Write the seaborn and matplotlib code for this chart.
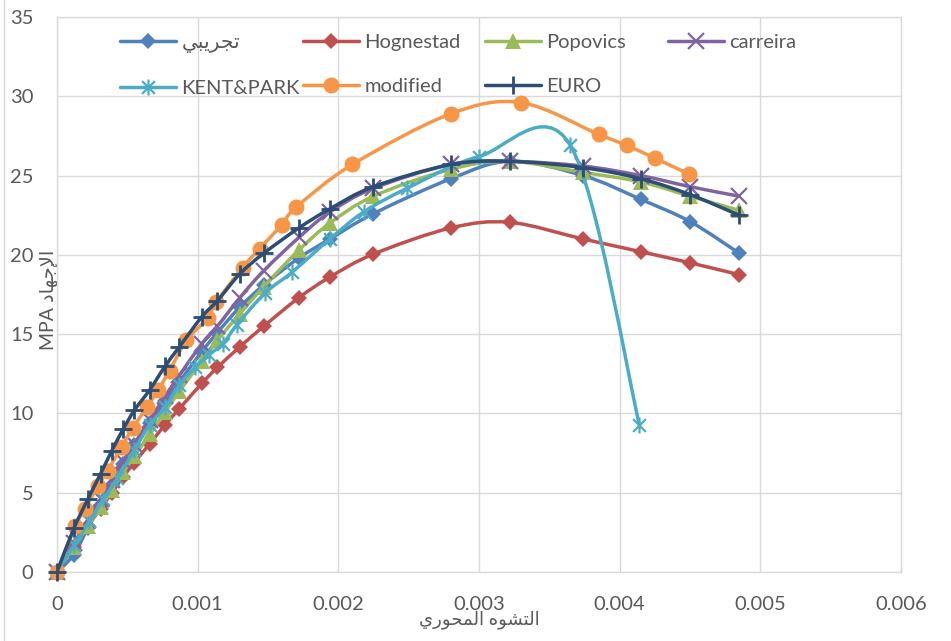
import numpy as np
import pandas as pd
import matplotlib
matplotlib.use("Agg")
import matplotlib.pyplot as plt
from matplotlib.path import Path
from matplotlib.patches import PathPatch
from matplotlib.lines import Line2D
import seaborn as sns

# ---------------- data ----------------
strain = [0, 0.00012, 0.00022, 0.00031, 0.00039, 0.00047, 0.00055, 0.00066, 0.00077,
          0.00087, 0.00103, 0.00114, 0.0013, 0.00147, 0.00172, 0.00194, 0.00225,
          0.0028, 0.00322, 0.00374, 0.00415, 0.0045, 0.00485]
exp_stress = [0, 1.1, 2.8, 4.2, 5.5, 6.8, 8.0, 9.4, 10.8, 12.0, 13.9, 15.1, 16.7, 18.1,
              19.8, 21.0, 22.6, 24.8, 25.9, 25.0, 23.5, 22.1, 20.1]
hognestad = [0, 1.6, 2.9, 4.0, 5.0, 6.0, 6.9, 8.1, 9.3, 10.3, 11.9, 12.9, 14.2, 15.5,
             17.3, 18.6, 20.05, 21.7, 22.05, 21.0, 20.2, 19.5, 18.75]
popovics = [0, 1.6, 2.9, 4.1, 5.2, 6.3, 7.3, 8.7, 10.1, 11.4, 13.3, 14.6, 16.3, 18.0,
            20.3, 22.0, 23.7, 25.4, 25.9, 25.2, 24.6, 23.7, 22.8]
carreira = [0, 1.8, 3.3, 4.6, 5.8, 7.0, 8.1, 9.6, 11.1, 12.4, 14.4, 15.5, 17.3, 19.0,
            21.1, 22.7, 24.2, 25.7, 25.9, 25.6, 25.0, 24.3, 23.7]
euro = [0, 2.75, 4.6, 6.2, 7.65, 9.0, 10.2, 11.5, 13.0, 14.2, 16.1, 17.1, 18.8, 20.1,
        21.7, 22.9, 24.3, 25.7, 25.9, 25.5, 24.8, 23.8, 22.5]

kp_strain = [0, 0.00012, 0.00023, 0.00033, 0.00043, 0.00055, 0.00066, 0.00077, 0.00087,
             0.00098, 0.00108, 0.00118, 0.00128, 0.00148, 0.00167, 0.00194, 0.00218,
             0.00249, 0.0030, 0.00365, 0.00414]
kent_park = [0, 1.7, 3.2, 4.6, 5.9, 7.7, 9.3, 10.4, 11.8, 12.9, 13.7, 14.4, 15.6, 17.6,
             18.9, 21.0, 22.7, 24.2, 26.2, 26.9, 9.3]

mod_strain = [0, 0.00013, 0.0002, 0.00029, 0.00036, 0.00046, 0.00054, 0.00064, 0.00072,
              0.0008, 0.00092, 0.00107, 0.00113, 0.00132, 0.00144, 0.0016, 0.0017,
              0.0021, 0.0028, 0.0033, 0.00385, 0.00405, 0.00425, 0.00449]
modified = [0, 2.9, 4.0, 5.4, 6.4, 7.9, 9.1, 10.4, 11.5, 12.7, 14.6, 16.0, 17.0, 19.2,
            20.4, 21.9, 23.0, 25.7, 28.9, 29.6, 27.6, 26.9, 26.1, 25.1]

# Arabic texts (presentation forms, visual order, since matplotlib has no shaping)
label_exp = "\uFEF2\uFE92\uFEF3\uFEAE\uFEA0\uFE97"          # تجريبي
x_title = "\uFEF1\uFEAD\uFEEE\uFEA4\uFEE4\uFEDF\uFE8D \uFEE9\uFEEE\uFEB8\uFE98\uFEDF\uFE8D"  # التشوه المحوري
y_title = "MPA \uFEA9\uFE8E\uFEEC\uFE9F\uFEF9\uFE8D"          # الإجهاد MPA

x_ticks = [0, 0.001, 0.002, 0.003, 0.004, 0.005, 0.006]
x_ticklabels = ["0", "0.001", "0.002", "0.003", "0.004", "0.005", "0.006"]
y_ticks = [0, 5, 10, 15, 20, 25, 30, 35]

# ---------------- style ----------------
sns.set_theme(style="white")
plt.rcParams['font.family'] = ['Lato', 'DejaVu Sans']

star = Path([(-1, -1), (1, 1), (-1, 1), (1, -1), (0, -1.25), (0, 1.25)],
            [Path.MOVETO, Path.LINETO, Path.MOVETO, Path.LINETO, Path.MOVETO, Path.LINETO])

series = [
    (label_exp, strain, exp_stress, "#4F81BD", dict(marker="D", markersize=8.5, mew=0)),
    ("Hognestad", strain, hognestad, "#C0504D", dict(marker="D", markersize=8.5, mew=0)),
    ("Popovics", strain, popovics, "#9BBB59", dict(marker="^", markersize=11.5, mew=0)),
    ("carreira", strain, carreira, "#8064A2", dict(marker="x", markersize=11, mew=1.6)),
    ("KENT&PARK", kp_strain, kent_park, "#4BACC6", dict(marker=star, markersize=11.5, mew=1.6,
                                                         markerfacecolor="none")),
    ("modified", mod_strain, modified, "#F79646", dict(marker="o", markersize=11.5, mew=0)),
    ("EURO", strain, euro, "#2C4D75", dict(marker="+", markersize=12.5, mew=2)),
]


def smooth_path(x, y):
    pts = np.column_stack([x, y]).astype(float)
    n = len(pts)
    verts = [pts[0]]
    codes = [Path.MOVETO]
    for i in range(n - 1):
        p0 = pts[i - 1] if i > 0 else pts[i]
        p1 = pts[i]
        p2 = pts[i + 1]
        p3 = pts[i + 2] if i + 2 < n else pts[i + 1]
        verts += [p1 + (p2 - p0) / 6.0, p2 - (p3 - p1) / 6.0, p2]
        codes += [Path.CURVE4] * 3
    return Path(verts, codes)


fig = plt.figure(figsize=(9.51, 6.41), dpi=100)
ax = fig.add_axes([57 / 951, 1 - 572 / 641, (901 - 57) / 951, (572 - 17) / 641])

LW = 2.5
handles = {}
for k, (name, xs, ys, col, mk) in enumerate(series):
    df = pd.DataFrame({"strain": xs, "stress": ys})
    patch = PathPatch(smooth_path(xs, ys), fill=False, edgecolor=col, lw=LW,
                      transform=ax.transData, zorder=3 + 2 * k,
                      capstyle="round", joinstyle="round")
    ax.add_patch(patch)
    sns.lineplot(data=df, x="strain", y="stress", ax=ax, sort=False, estimator=None,
                 linestyle="none", color=col, markeredgecolor=col, zorder=4 + 2 * k,
                 legend=False, clip_on=False, **mk)
    handles[name] = Line2D([], [], color=col, lw=LW, markeredgecolor=col, **mk)

ax.set_xlim(0, 0.006)
ax.set_ylim(0, 35)
ax.set_xticks(x_ticks)
ax.set_xticklabels(x_ticklabels)
ax.set_yticks(y_ticks)
ax.set_yticklabels([str(v) for v in y_ticks])
ax.grid(True, color="#D9D9D9", lw=1)
ax.set_axisbelow(True)
for s in ax.spines.values():
    s.set_color("#D9D9D9")
    s.set_linewidth(1)
ax.tick_params(axis="both", length=0, labelsize=14.5, labelcolor="#595959")
ax.tick_params(axis="y", pad=17)
ax.tick_params(axis="x", pad=17)

ax.set_xlabel(x_title, fontsize=13, color="#595959", va="center")
ax.xaxis.set_label_coords(0.5, -(620 - 572) / 555)
ax.set_ylabel(y_title, fontsize=14, color="#595959", va="center")
ax.yaxis.set_label_coords((49 - 57) / 844, (572 - 300) / 555)

# legend: four aligned columns
columns = [[label_exp, "KENT&PARK"], ["Hognestad", "modified"], ["Popovics", "EURO"], ["carreira"]]
col_x = [120, 303, 485, 668]
legs = []
for cx, names in zip(col_x, columns):
    leg = ax.legend([handles[n] for n in names], names, loc="upper left",
                    bbox_to_anchor=(cx / 951, 1 - 34 / 641), bbox_transform=fig.transFigure,
                    frameon=False, fontsize=14.5, handlelength=2.8, handletextpad=0.25,
                    borderpad=0, borderaxespad=0, labelspacing=1.35, labelcolor="#595959")
    legs.append(leg)
for leg in legs[:-1]:
    ax.add_artist(leg)

fig.add_artist(Line2D([4 / 951, 4 / 951], [0, 1], color="#D9D9D9", lw=1,
                      transform=fig.transFigure))

fig.savefig("out.png", dpi=100)
